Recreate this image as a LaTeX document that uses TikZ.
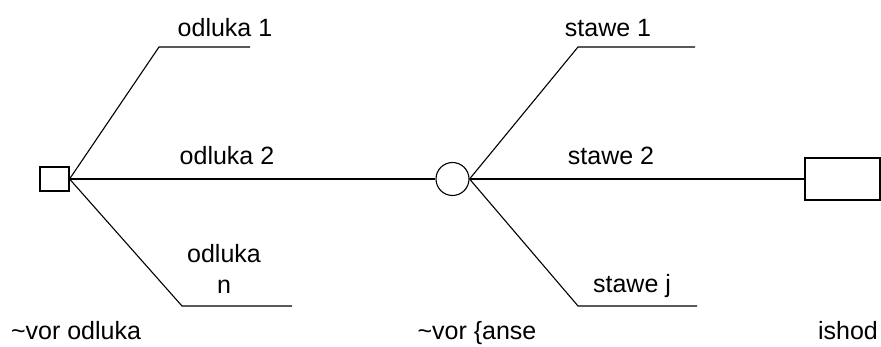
\documentclass[tikz,border=0pt]{standalone}
\usepackage{fontspec}
\setmainfont{Liberation Sans}
\begin{document}
\begin{tikzpicture}[x=1pt,y=-1pt,
  line width=1.1pt,
  lbl/.style={inner sep=0pt,anchor=base,font=\fontsize{25}{32}\selectfont},
  decbox/.style={draw,rectangle,minimum width=29pt,minimum height=24pt,inner sep=0pt},
  chancenode/.style={draw,circle,minimum size=33pt,inner sep=0pt},
  outcomebox/.style={draw,rectangle,minimum width=75pt,minimum height=42pt,inner sep=0pt},
  branch/.style={draw,line width=1.1pt}]
\useasboundingbox (0,0) rectangle (881,347);

% decision node, chance node, outcome
\node[decbox] (dec) at (54.5,179) {};
\node[chancenode] (chance) at (452.5,179) {};
\node[outcomebox] (out) at (842.5,179) {};

% bends and ends of the branches
\coordinate (d1) at (159,47);
\coordinate (d1e) at (250,47);
\coordinate (dn) at (182,306);
\coordinate (dne) at (292,306);
\coordinate (s1) at (578,47);
\coordinate (s1e) at (695,47);
\coordinate (sj) at (578,306);
\coordinate (sje) at (697,306);

% decision branches
\draw[branch] (dec.east) -- (d1) -- (d1e);
\draw[branch] (dec.east) -- (chance.west);
\draw[branch] (dec.east) -- (dn) -- (dne);

% chance branches
\draw[branch] (chance.east) -- (s1) -- (s1e);
\draw[branch] (chance.east) -- (out.west);
\draw[branch] (chance.east) -- (sj) -- (sje);

% branch labels
\node[lbl] (t1) at (225,37) {odluka 1};
\node[lbl] (t2) at (227,165) {odluka 2};
\node[lbl,align=center] (tn) at (224,294) {odluka\\[-1pt]n};
\node[lbl] (u1) at (608,37) {stawe 1};
\node[lbl] (u2) at (611,165) {stawe 2};
\node[lbl] (uj) at (632,293) {stawe j};

% node captions
\node[lbl] (c1) at (76,340) {\char`\~vor odluka};
\node[lbl] (c2) at (477,340) {\char`\~vor \{anse};
\node[lbl] (c3) at (848,340) {ishod};
\end{tikzpicture}
\end{document}
